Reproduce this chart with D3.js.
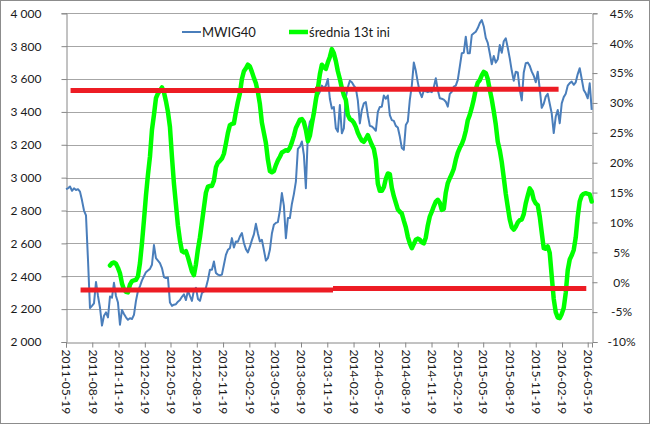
<!DOCTYPE html>
<html><head><meta charset="utf-8">
<script src="https://cdn.jsdelivr.net/npm/d3@7"></script>
<style>
html,body{margin:0;padding:0;background:#fff;}
svg text{font-family:Lato,"Open Sans",sans-serif;}
</style></head><body>
<svg id="c" width="650" height="424"></svg>
<script>
// ---- DATA ----
const startDate = "2011-05-19";       // first weekly observation
const axisEndDate = "2016-06-03";
const seriesNames = ["MWIG40", "średnia 13t ini"];
const xTickLabels = ["2011-05-19","2011-08-19","2011-11-19","2012-02-19","2012-05-19","2012-08-19","2012-11-19",
  "2013-02-19","2013-05-19","2013-08-19","2013-11-19","2014-02-19","2014-05-19","2014-08-19","2014-11-19",
  "2015-02-19","2015-05-19","2015-08-19","2015-11-19","2016-02-19","2016-05-19"];
const leftTicks = [2000,2200,2400,2600,2800,3000,3200,3400,3600,3800,4000];
const rightTicks = [-10,-5,0,5,10,15,20,25,30,35,40,45];

// weekly MWIG40 closes
const mwig40 = [
2930,2935,2946,2920,2935,2925,2930,2915,2862,2800,
2770,2500,2207,2220,2235,2365,2280,2210,2100,2160,
2180,2150,2277,2270,2360,2280,2240,2105,2195,2170,
2150,2135,2145,2140,2165,2250,2310,2340,2375,2400,
2425,2435,2445,2470,2590,2510,2495,2480,2450,2395,
2389,2392,2240,2220,2227,2230,2245,2255,2275,2290,
2255,2312,2280,2250,2315,2330,2262,2250,2298,2308,
2330,2378,2440,2440,2490,2420,2410,2405,2410,2470,
2530,2561,2571,2632,2575,2612,2610,2642,2663,2602,
2565,2545,2580,2620,2655,2719,2660,2612,2622,2560,
2495,2510,2561,2660,2713,2725,2730,2800,2906,2830,
2632,2754,2754,2840,2900,2976,3175,3189,3220,3139,
2936,3270,3340,3360,3420,3480,3500,3523,3560,3543,
3560,3600,3480,3420,3430,3300,3280,3442,3270,3300,
3490,3550,3590,3580,3560,3543,3470,3330,3412,3452,
3460,3380,3315,3311,3300,3285,3400,3430,3432,3500,
3480,3500,3380,3350,3345,3315,3305,3250,3180,3169,
3320,3341,3473,3560,3700,3650,3580,3520,3490,3530,
3525,3520,3525,3520,3550,3605,3533,3483,3480,3475,
3462,3432,3510,3523,3554,3560,3595,3676,3757,3760,
3858,3757,3757,3868,3878,3888,3910,3940,3959,3920,
3850,3820,3757,3690,3740,3700,3720,3807,3760,3830,
3848,3790,3726,3650,3590,3645,3640,3534,3470,3640,
3696,3700,3680,3645,3620,3580,3645,3540,3425,3450,
3493,3510,3450,3390,3271,3372,3412,3331,3452,3490,
3510,3560,3575,3584,3565,3580,3630,3666,3600,3534,
3513,3483,3574,3412];

// weekly "średnia 13t ini" (%), right axis
const srednia = [
null,null,null,null,null,null,null,null,null,null,
null,null,null,null,null,null,null,null,null,null,
null,null,2.8,3.2,3.3,3.1,2.4,1.5,-0.2,-1.2,
-1.6,-1.7,-0.4,0.2,0.3,0.4,1.0,3.2,6.5,10.4,
14.5,18.0,21.0,25.5,28.0,30.8,31.6,32.1,32.6,31.8,
30.3,28.5,26.0,21.0,16.5,13.0,9.5,7.0,5.2,5.0,
5.2,4.2,3.0,1.8,1.2,3.0,5.5,7.5,10.0,12.5,
15.0,16.0,16.1,16.1,17.0,19.2,20.0,20.3,20.7,21.5,
23.2,25.0,26.3,26.5,26.6,28.5,30.2,31.6,34.0,35.3,
35.8,36.4,36.1,35.2,34.2,33.3,31.8,29.8,26.7,25.0,
23.3,20.5,18.6,18.4,18.6,19.6,20.4,21.0,21.7,21.9,
22.1,22.0,22.5,23.4,24.5,25.8,26.5,27.2,27.3,26.8,
25.5,23.6,24.5,26.5,28.3,30.5,32.4,34.8,36.4,36.0,
35.7,36.8,37.7,39.0,38.3,37.0,35.3,34.0,32.5,31.3,
30.5,28.0,27.3,27.1,26.7,26.0,25.0,24.3,23.7,23.5,
24.0,24.6,23.8,23.0,22.3,20.5,16.5,15.3,15.3,15.9,
17.3,18.2,18.1,15.8,14.4,13.3,12.2,11.8,11.5,10.3,
9.2,7.6,6.5,5.7,6.4,7.1,7.3,7.1,6.7,6.5,
7.5,9.5,11.0,11.8,12.7,13.5,13.8,13.3,12.1,12.3,
15.0,16.6,17.4,18.1,19.0,20.5,21.7,22.5,23.1,24.0,
25.3,27.1,28.0,29.2,30.6,32.3,33.4,33.8,34.6,35.2,
35.0,34.0,32.2,30.6,28.6,26.4,23.5,22.1,20.1,17.5,
14.8,12.6,10.5,9.2,8.8,9.3,10.0,10.4,10.5,11.4,
13.2,14.5,15.7,15.2,13.8,13.2,12.9,11.0,8.3,5.7,
5.6,6.0,4.9,1.0,-2.8,-5.0,-5.9,-6.0,-5.3,-4.3,
-1.8,2.0,3.8,4.5,5.4,7.5,11.0,13.5,14.5,14.8,
14.9,14.8,14.7,13.5];

// red horizontal level lines (right axis, %)
const levelFrom  = ["2011-06-04","2013-10-07","2011-07-09","2013-12-09"];
const levelTo    = ["2013-10-07","2016-02-07","2013-12-09","2016-05-14"];
const levelValue = [32.1, 32.3, -1.3, -1.05];

// ---- CHART ----
const svg = d3.select("#c");
const parse = d3.utcParse("%Y-%m-%d");
const start = parse(startDate);
const dates = mwig40.map((_, i) => d3.utcDay.offset(start, 7 * i));
const L = 66, R = 592, T = 13.3, B = 342;

const x = d3.scaleUtc().domain([start, parse(axisEndDate)]).range([L, R]);
const yL = d3.scaleLinear().domain([2000, 4000]).range([B, T]);
const yR = d3.scaleLinear().domain([-10, 45]).range([B, T]);

// chart border
svg.append("rect").attr("x", 0.5).attr("y", 0.5).attr("width", 649).attr("height", 423)
  .attr("fill", "#fff").attr("stroke", "#8c8c8c");

// gridlines
svg.append("g").selectAll("line").data(leftTicks.slice(1)).join("line")
  .attr("x1", L).attr("x2", R)
  .attr("y1", d => Math.round(yL(d)) + 0.5).attr("y2", d => Math.round(yL(d)) + 0.5)
  .attr("stroke", "#a6a6a6").attr("stroke-width", 1);

const thousands = d3.formatLocale({decimal: ",", thousands: " ", grouping: [3], currency: ["", ""]}).format(",");

// left axis
const gL = svg.append("g").attr("transform", `translate(${L + 0.5},0)`)
  .call(d3.axisLeft(yL).tickValues(leftTicks).tickFormat(thousands).tickSize(5).tickPadding(20));
// right axis
const gR = svg.append("g").attr("transform", `translate(${R + 0.5},0)`)
  .call(d3.axisRight(yR).tickValues(rightTicks).tickFormat(d => d + "%").tickSize(5).tickPadding(24));
gR.selectAll("text").attr("text-anchor", "middle");
// bottom axis
const gB = svg.append("g").attr("transform", `translate(0,${B + 0.5})`)
  .call(d3.axisBottom(x).tickValues(xTickLabels.map(parse)).tickFormat(d3.utcFormat("%Y-%m-%d")).tickSize(5));
gB.selectAll("text")
  .attr("transform", "rotate(90)")
  .attr("text-anchor", "start")
  .attr("x", 7).attr("y", 0).attr("dy", "0.35em");

[gL, gR, gB].forEach(g => {
  g.select(".domain").attr("stroke", "#868686");
  g.selectAll(".tick line").attr("stroke", "#868686");
  g.selectAll("text").attr("fill", "#1a1a1a").style("font-size", "12px");
});
gL.selectAll("text").attr("text-anchor", "end").attr("dx", 0);
gL.selectAll(".tick text").attr("x", -25);

// series
const lineL = d3.line().x((d, i) => x(dates[i])).y(d => yL(d));
const lineR = d3.line().defined(d => d !== null).x((d, i) => x(dates[i])).y(d => yR(d));

svg.append("path").datum(mwig40).attr("d", lineL)
  .attr("fill", "none").attr("stroke", "#4a7ebb").attr("stroke-width", 2).attr("stroke-linejoin", "round");
svg.append("path").datum(srednia).attr("d", lineR)
  .attr("fill", "none").attr("stroke", "#00ff00").attr("stroke-width", 4.5)
  .attr("stroke-linejoin", "round").attr("stroke-linecap", "round");

// red levels
svg.append("g").selectAll("line").data(levelValue).join("line")
  .attr("x1", (d, i) => x(parse(levelFrom[i])))
  .attr("x2", (d, i) => x(parse(levelTo[i])))
  .attr("y1", d => yR(d)).attr("y2", d => yR(d))
  .attr("stroke", "#ed1c24").attr("stroke-width", 5);

// legend
const legendColors = ["#4a7ebb", "#00ff00"];
const legendWidths = [2, 4.5];
const legendX = [182, 289];
const lg = svg.append("g");
seriesNames.forEach((name, i) => {
  lg.append("line").attr("x1", legendX[i]).attr("x2", legendX[i] + 19)
    .attr("y1", 32).attr("y2", 32)
    .attr("stroke", legendColors[i]).attr("stroke-width", legendWidths[i]);
  lg.append("text").attr("x", legendX[i] + 20).attr("y", 32).attr("dy", "0.35em")
    .attr("fill", "#1a1a1a").style("font-size", "13px").text(name);
});
</script>
</body></html>
